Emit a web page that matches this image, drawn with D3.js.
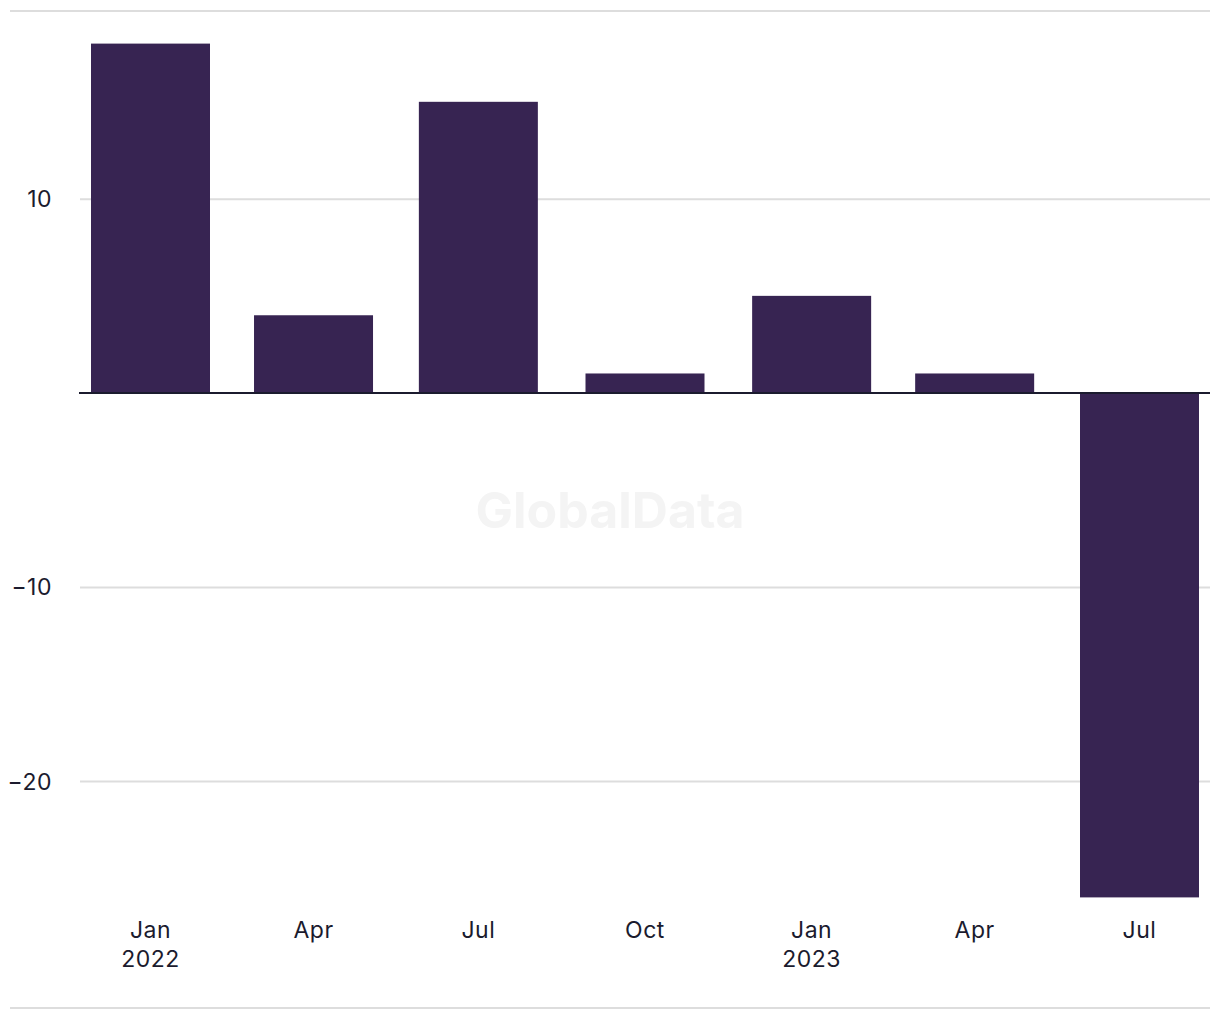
<!DOCTYPE html>
<html>
<head>
<meta charset="utf-8">
<script src="https://cdn.jsdelivr.net/npm/d3@7"></script>
<style>
  html, body { margin: 0; padding: 0; background: #fff; }
  svg { display: block; }
  text { font-family: Inter, "Noto Sans", sans-serif; }
</style>
</head>
<body>
<svg id="chart" width="1220" height="1020"></svg>
<script>
// ---- data ----
const dates = ["2022-01-01", "2022-04-01", "2022-07-01", "2022-10-01", "2023-01-01", "2023-04-01", "2023-07-01"];
const values = [18, 4, 15, 1, 5, 1, -26];
const yTicks = [10, -10, -20];
const xTickLabels = [["Jan", "2022"], ["Apr"], ["Jul"], ["Oct"], ["Jan", "2023"], ["Apr"], ["Jul"]];

const parse = d3.utcParse("%Y-%m-%d");
const data = dates.map((d, i) => ({ date: parse(d), value: values[i] }));

const svg = d3.select("#chart");
const plotLeft = 80, plotRight = 1210;

const x = d3.scaleUtc()
  .domain([parse(dates[0]), parse(dates[dates.length - 1])])
  .range([150.5, 1139.5]);

const y = d3.scaleLinear()
  .domain([-26, 18])
  .range([897.4, 43.6]);

const barW = 119;

// frame lines
svg.append("line").attr("x1", 10).attr("x2", 1210).attr("y1", 11).attr("y2", 11)
  .attr("stroke", "#dddddd").attr("stroke-width", 2);
svg.append("line").attr("x1", 10).attr("x2", 1210).attr("y1", 1008).attr("y2", 1008)
  .attr("stroke", "#dddddd").attr("stroke-width", 2);

// watermark
svg.append("text")
  .attr("x", 610).attr("y", 528)
  .attr("text-anchor", "middle")
  .attr("font-size", 50).attr("font-weight", 700)
  .attr("fill", "#f4f4f4")
  .text("GlobalData");

// y axis (gridlines + labels)
const yAxis = d3.axisLeft(y).tickValues(yTicks)
  .tickSize(-(plotRight - plotLeft))
  .tickPadding(28)
  .tickFormat(d => d3.format("d")(d).replace("-", "\u2212"));
const gy = svg.append("g").attr("transform", `translate(${plotLeft},0)`).call(yAxis);
gy.select(".domain").remove();
gy.selectAll(".tick line").attr("stroke", "#dddddd").attr("stroke-width", 2);
gy.selectAll(".tick text").attr("font-size", 23).attr("fill", "#1b1b2e")
  .attr("letter-spacing", 0.5).attr("dy", "0.35em");

// bars
svg.append("g").selectAll("rect").data(data).join("rect")
  .attr("x", d => x(d.date) - barW / 2)
  .attr("width", barW)
  .attr("y", d => y(Math.max(0, d.value)))
  .attr("height", d => Math.abs(y(d.value) - y(0)))
  .attr("fill", "#372452");

// zero line
svg.append("line")
  .attr("x1", 79).attr("x2", plotRight)
  .attr("y1", y(0)).attr("y2", y(0))
  .attr("stroke", "#1b1b2e").attr("stroke-width", 2);

// x axis labels
const gx = svg.append("g");
data.forEach((d, i) => {
  const t = gx.append("text")
    .attr("x", x(d.date)).attr("y", 938)
    .attr("text-anchor", "middle")
    .attr("font-size", 23).attr("letter-spacing", 0.5).attr("fill", "#1b1b2e");
  xTickLabels[i].forEach((line, j) => {
    t.append("tspan").attr("x", x(d.date)).attr("dy", j === 0 ? 0 : 29).text(line);
  });
});
</script>
</body>
</html>
